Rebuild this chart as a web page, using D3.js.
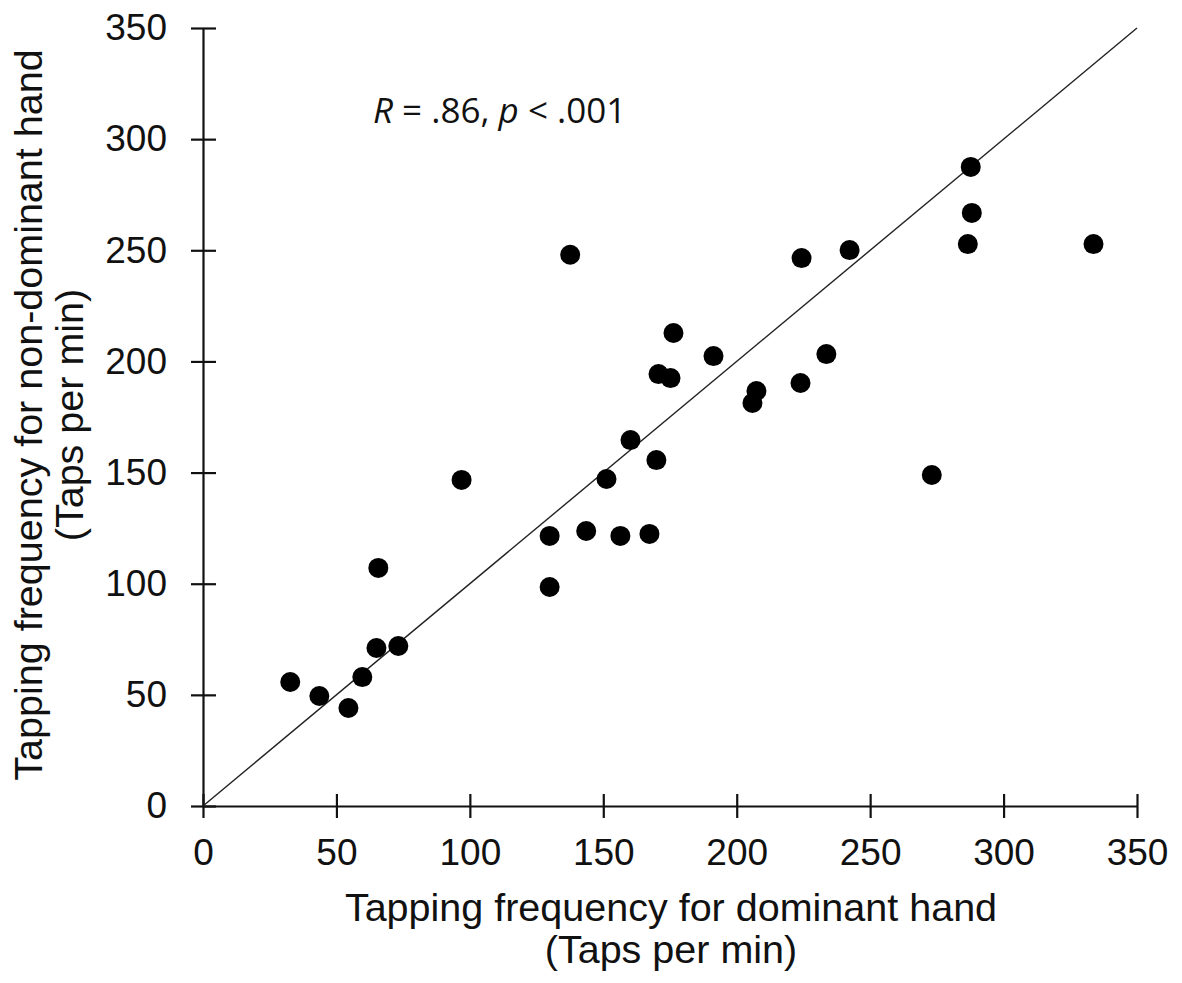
<html>
<meta charset="utf-8">
<style>
body { margin: 0; background: #fff; }
.tick text { font-family: "Liberation Sans", Arial, sans-serif; font-size: 37px; fill: #111; }
.title { font-family: "Liberation Sans", Arial, sans-serif; font-size: 39.5px; fill: #111; }
.note { font-family: "Open Sans", sans-serif; font-size: 35px; fill: #111; }
</style>
<body>
<script src="https://cdn.jsdelivr.net/npm/d3@7"></script>
<script>

var width = 1182,
    height = 983;

// dominant hand (x) and non-dominant hand (y), taps per min
var dominant = [32.7, 43.6, 54.5, 59.7, 65.0, 65.7, 73.2, 96.9, 129.9, 129.9,
                137.6, 143.6, 151.2, 156.4, 160.2, 167.3, 169.9, 170.7, 175.2, 176.3,
                191.3, 205.9, 207.4, 223.9, 224.3, 233.6, 242.3, 273.1, 286.6, 288.1,
                287.7, 333.7];
var nondominant = [55.8, 49.5, 44.1, 58.0, 71.1, 107.1, 72.0, 146.7, 121.5, 98.5,
                   248.0, 123.7, 147.1, 121.5, 164.6, 122.4, 155.6, 194.3, 192.5, 212.8,
                   202.4, 181.3, 186.7, 190.3, 246.5, 203.3, 250.1, 148.9, 252.8, 266.8,
                   287.5, 252.8];
var ticks = [0, 50, 100, 150, 200, 250, 300, 350];

var svg = d3.select("body").append("svg")
    .attr("width", width)
    .attr("height", height);

var x = d3.scaleLinear().domain([0, 350]).range([203, 1137]);
var y = d3.scaleLinear().domain([0, 350]).range([806, 28]);

// axes with ticks crossing the line
var xAxis = svg.append("g")
    .attr("transform", "translate(0," + y(0) + ")")
    .call(d3.axisBottom(x).tickValues(ticks).tickSize(12).tickSizeOuter(0).tickPadding(21));
xAxis.selectAll(".tick line").attr("y1", -12);

var yAxis = svg.append("g")
    .attr("transform", "translate(" + x(0) + ",0)")
    .call(d3.axisLeft(y).tickValues(ticks).tickSize(12).tickSizeOuter(0).tickPadding(24));
yAxis.selectAll(".tick line").attr("x1", 13);

svg.selectAll(".domain, .tick line")
    .attr("stroke", "#111")
    .attr("stroke-width", 2.2);

// identity line
svg.append("line")
    .attr("x1", x(0)).attr("y1", y(0))
    .attr("x2", x(350)).attr("y2", y(350))
    .attr("stroke", "#222")
    .attr("stroke-width", 1.4);

svg.selectAll("circle")
    .data(dominant.map(function(d, i) { return [d, nondominant[i]]; }))
    .enter().append("circle")
    .attr("cx", function(d) { return x(d[0]); })
    .attr("cy", function(d) { return y(d[1]); })
    .attr("r", 10)
    .attr("fill", "#000");

// axis titles
svg.append("text").attr("class", "title")
    .attr("x", 671).attr("y", 921).attr("text-anchor", "middle")
    .text("Tapping frequency for dominant hand");
svg.append("text").attr("class", "title")
    .attr("x", 671).attr("y", 963).attr("text-anchor", "middle")
    .text("(Taps per min)");

svg.append("text").attr("class", "title")
    .attr("transform", "translate(42,415) rotate(-90)").attr("text-anchor", "middle")
    .text("Tapping frequency for non-dominant hand");
svg.append("text").attr("class", "title")
    .attr("transform", "translate(83,415) rotate(-90)").attr("text-anchor", "middle")
    .text("(Taps per min)");

// correlation note
var note = svg.append("text").attr("class", "note").attr("x", 373).attr("y", 123);
note.append("tspan").attr("font-style", "italic").text("R");
note.append("tspan").text(" = .86, ");
note.append("tspan").attr("font-style", "italic").text("p");
note.append("tspan").text(" < .001");

</script>
</body>
</html>
